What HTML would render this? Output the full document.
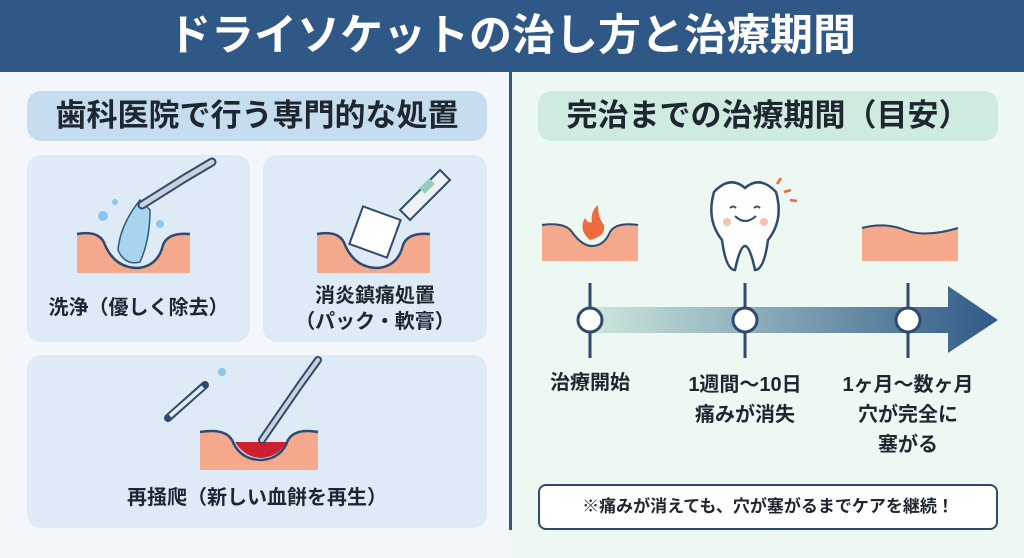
<!DOCTYPE html>
<html><head><meta charset="utf-8"><style>
body{margin:0;width:1024px;height:558px;overflow:hidden;font-family:"Liberation Sans","Noto Sans CJK JP",sans-serif;background:#f3f7fb;position:relative}
.a{position:absolute}
.hdr{left:0;top:0;width:1024px;height:72px;background:#2f5886;color:#fff;font-size:43px;font-weight:bold;text-align:center;line-height:72px}
.pill{height:50px;border-radius:14px;font-size:31px;font-weight:bold;text-align:center;line-height:50px;color:#1e2630}
.card{background:#deebf7;border-radius:14px}
.lbl{font-size:20px;font-weight:bold;color:#1e2630;text-align:center;line-height:26px}
</style></head><body>
<div class="a" style="left:512px;top:72px;width:512px;height:486px;background:#eef8f3"></div>
<div class="a hdr">ドライソケットの治し方と治療期間</div>
<div class="a" style="left:509px;top:72px;width:3px;height:458px;background:#2f5886"></div>
<div class="a pill" style="left:27px;top:91px;width:460px;background:#c6ddf0">歯科医院で行う専門的な処置</div>
<div class="a pill" style="left:538px;top:91px;width:460px;background:#cfeadf">完治までの治療期間（目安）</div>
<div class="a card" style="left:27px;top:155px;width:223px;height:187px"></div>
<div class="a card" style="left:263px;top:155px;width:224px;height:187px"></div>
<div class="a card" style="left:27px;top:355px;width:460px;height:173px"></div>
<svg class="a" style="left:0;top:0" width="1024" height="558">
<path d="M77 234 Q100 230 105 245 Q115 268 138 268 Q158 266 163 245 Q168 232 190 234 L190 273 L77 273Z" fill="#f4a98c"/>
<path d="M77 234 Q100 230 105 245 Q115 268 138 268 Q158 266 163 245 Q168 232 190 234" fill="none" stroke="#2f4a6e" stroke-width="2.5"/>
<path d="M140 200 Q120 225 118 250 Q125 266 140 262 Q150 240 150 210Z" fill="#a9d3ee" stroke="#2f5886" stroke-width="1.5"/>
<path d="M142 205 L185 178 L212 162" stroke="#2f4a6e" stroke-width="9" stroke-linecap="round" fill="none"/>
<path d="M142 205 L185 178 L212 162" stroke="#c9d2da" stroke-width="5" stroke-linecap="round" fill="none"/>
<circle cx="103" cy="216" r="5" fill="#8ec5ea"/><circle cx="160" cy="224" r="4" fill="#8ec5ea"/><circle cx="115" cy="202" r="3" fill="#8ec5ea"/>
<path d="M317 234 Q340 230 345 245 Q355 268 378 268 Q398 266 403 245 Q408 232 430 234 L430 273 L317 273Z" fill="#f4a98c"/>
<path d="M317 234 Q340 230 345 245 Q355 268 378 268 Q398 266 403 245 Q408 232 430 234" fill="none" stroke="#2f4a6e" stroke-width="2.5"/>
<rect x="355" y="212" width="40" height="40" fill="#fff" stroke="#2f4a6e" stroke-width="2" transform="rotate(20 375 232)"/>
<path d="M400 210 L440 170 L450 180 L410 220Z" fill="#eef2f2" stroke="#2f4a6e" stroke-width="2"/>
<rect x="420" y="182" width="14" height="8" fill="#8fcfb8" transform="rotate(-45 427 186)"/>
<path d="M200 432 Q225 428 232 440 Q240 460 262 460 Q282 458 288 440 Q295 428 318 432 L318 470 L200 470Z" fill="#f4a98c"/>
<path d="M235 442 Q245 458 262 458 Q280 456 286 442Z" fill="#cc2030"/>
<path d="M200 432 Q225 428 232 440 Q240 460 262 460 Q282 458 288 440 Q295 428 318 432" fill="none" stroke="#2f4a6e" stroke-width="2.5"/>
<path d="M262 440 L300 385 L318 360" stroke="#2f4a6e" stroke-width="8" stroke-linecap="round" fill="none"/>
<path d="M262 440 L300 385 L318 360" stroke="#c9d2da" stroke-width="4" stroke-linecap="round" fill="none"/>
<path d="M168 418 L205 385" stroke="#2f4a6e" stroke-width="8" stroke-linecap="round"/>
<path d="M170 416 L203 387" stroke="#e0ecf4" stroke-width="4"/>
<circle cx="222" cy="372" r="4" fill="#8ec5ea"/>
<path d="M542 225 Q565 222 572 232 Q582 246 592 246 Q604 246 610 232 Q616 222 638 225 L638 261 L542 261Z" fill="#f4a98c"/>
<path d="M542 225 Q565 222 572 232 Q582 246 592 246 Q604 246 610 232 Q616 222 638 225" fill="none" stroke="#2f4a6e" stroke-width="2"/>
<path d="M590 240 Q578 230 585 218 Q588 224 592 222 Q590 212 598 205 Q598 218 604 225 Q606 236 590 240Z" fill="#ec6a3e"/>
<path d="M714 192 Q730 175 745 188 Q760 175 776 192 Q784 220 768 240 Q764 270 755 270 Q750 246 745 246 Q740 246 735 270 Q726 270 722 240 Q706 220 714 192Z" fill="#fff" stroke="#2f4a6e" stroke-width="2.5"/>
<path d="M735 216 Q745 226 756 216" fill="none" stroke="#2f4a6e" stroke-width="2"/>
<circle cx="727" cy="222" r="4" fill="#f6c1b0"/><circle cx="764" cy="222" r="4" fill="#f6c1b0"/>
<path d="M730 208 q3 -3 6 0 M754 208 q3 -3 6 0" stroke="#2f4a6e" stroke-width="2" fill="none"/>
<path d="M777 184 l4 -6 M784 192 l7 -2 M790 200 l7 1" stroke="#ec6a3e" stroke-width="2.5"/>
<path d="M862 228 Q885 222 905 230 Q925 238 958 228 L958 261 L862 261Z" fill="#f4a98c"/>
<path d="M862 228 Q885 222 905 230 Q925 238 958 228" fill="none" stroke="#2f4a6e" stroke-width="2"/>
<defs><linearGradient id="g" x1="0" x2="1"><stop offset="0" stop-color="#cde8de"/><stop offset="1" stop-color="#2f5886"/></linearGradient></defs>
<path d="M590 307 L948 307 L948 286 L998 320 L948 353 L948 333 L590 333Z" fill="url(#g)"/>
<g stroke="#2f4a6e" stroke-width="3" fill="#fff">
<line x1="590" y1="283" x2="590" y2="358"/><line x1="745" y1="283" x2="745" y2="358"/><line x1="908" y1="283" x2="908" y2="358"/>
<circle cx="590" cy="320" r="12"/><circle cx="745" cy="320" r="12"/><circle cx="908" cy="320" r="12"/></g>
</svg>
<div class="a lbl" style="left:27px;top:295px;width:223px">洗浄（優しく除去）</div>
<div class="a lbl" style="left:263px;top:283px;width:224px">消炎鎮痛処置<br>（パック・軟膏）</div>
<div class="a lbl" style="left:27px;top:485px;width:460px">再掻爬（新しい血餅を再生）</div>
<div class="a lbl" style="left:530px;top:370px;width:120px">治療開始</div>
<div class="a lbl" style="left:675px;top:370px;width:140px;line-height:30px">1週間〜10日<br>痛みが消失</div>
<div class="a lbl" style="left:830px;top:370px;width:156px;line-height:30px">1ヶ月〜数ヶ月<br>穴が完全に<br>塞がる</div>
<div class="a" style="left:538px;top:484px;width:456px;height:42px;background:#fff;border:2px solid #2f4a6e;border-radius:8px;font-size:17px;font-weight:bold;text-align:center;line-height:42px;color:#1e2630">※痛みが消えても、穴が塞がるまでケアを継続！</div>
</body></html>
